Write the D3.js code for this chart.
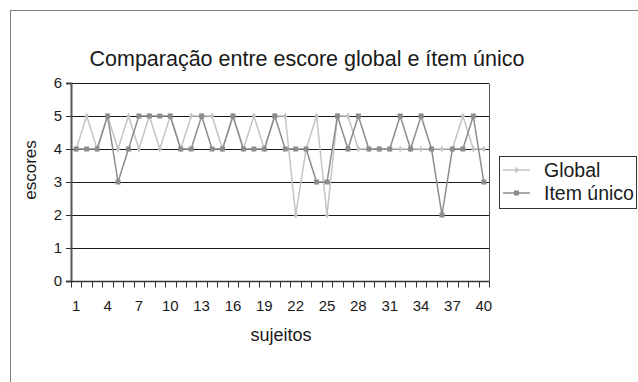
<!DOCTYPE html>
<html>
<head>
<meta charset="utf-8">
<script src="https://cdn.jsdelivr.net/npm/d3@7"></script>
<style>
  html, body { margin: 0; padding: 0; background: #fff; }
  svg { display: block; font-family: "Liberation Sans", Arial, sans-serif; }
</style>
</head>
<body>
<svg id="chart" width="638" height="382"></svg>
<script>
const subjects = d3.range(1, 41);
const globalScores = [4,5,4,5,4,5,4,5,4,5, 4,5,5,5,4,5,4,5,4,5, 5,2,4,5,2,5,5,4,4,4, 4,4,4,4,4,4,4,5,4,4];
const itemScores   = [4,4,4,5,3,4,5,5,5,5, 4,4,5,4,4,5,4,4,4,5, 4,4,4,3,3,5,4,5,4,4, 4,5,4,5,4,2,4,4,5,3];
const yTicks = [0,1,2,3,4,5,6];
const xTickLabels = [1,4,7,10,13,16,19,22,25,28,31,34,37,40];
const seriesNames = ["Global", "Item único"];
const titleText = "Comparação entre escore global e ítem único";

(function () {
const FF = "Liberation Sans, Arial, sans-serif";
const svg = d3.select("#chart");
const pL = 71, pR = 489, pT = 83, pB = 281;

// outer frame
svg.append("rect").attr("x", 10.5).attr("y", 10.5).attr("width", 700).attr("height", 500)
  .attr("fill", "none").attr("stroke", "#808080").attr("stroke-width", 1);

const x = d3.scaleBand().domain(subjects).range([pL, pR]).paddingInner(0).paddingOuter(0);
const y = d3.scaleLinear().domain([0, 6]).range([pB, pT]);

// gridlines
svg.append("g").selectAll("line").data(yTicks.filter(d => d > 0)).join("line")
  .attr("x1", pL).attr("x2", pR)
  .attr("y1", d => Math.round(y(d)) + 0.5).attr("y2", d => Math.round(y(d)) + 0.5)
  .attr("stroke", "#1a1a1a").attr("stroke-width", 1);

// right plot border
svg.append("line").attr("x1", pR + 0.5).attr("x2", pR + 0.5)
  .attr("y1", Math.round(y(6)) + 0.5).attr("y2", Math.round(y(0)) + 0.5)
  .attr("stroke", "#555").attr("stroke-width", 1);

// y axis
const yAxis = d3.axisLeft(y).tickValues(yTicks).tickSize(5).tickPadding(4).tickFormat(d3.format("d"));
const gy = svg.append("g").attr("transform", `translate(${pL},0)`).call(yAxis);
gy.select(".domain").attr("stroke", "#555").attr("stroke-width", 2);
gy.selectAll(".tick line").attr("stroke", "#333");
gy.selectAll(".tick text").attr("font-size", 15).attr("fill", "#1a1a1a").attr("font-family", FF);

// x axis: ticks at band boundaries
const gx = svg.append("g").attr("transform", `translate(0,${Math.round(y(0)) + 0.5})`);
gx.append("line").attr("x1", pL).attr("x2", pR).attr("stroke", "#333").attr("stroke-width", 1.5);
const bounds = subjects.map(d => x(d)).concat([pR]);
gx.selectAll("line.tk").data(bounds).join("line").attr("class", "tk")
  .attr("x1", d => Math.round(d) + 0.5).attr("x2", d => Math.round(d) + 0.5)
  .attr("y1", 0).attr("y2", 6).attr("stroke", "#333");
gx.selectAll("text").data(xTickLabels).join("text")
  .attr("x", d => x(d) + x.bandwidth() / 2).attr("y", 29)
  .attr("text-anchor", "middle").attr("font-size", 15).attr("fill", "#1a1a1a").attr("font-family", FF)
  .text(d => d);

// lines
const cx = d => x(d) + x.bandwidth() / 2;
const lineGen = vals => d3.line().x((d, i) => cx(subjects[i])).y(d => y(d))(vals);

const gCol = "#c4c4c4", iCol = "#8c8c8c";
svg.append("path").attr("d", lineGen(globalScores)).attr("fill", "none")
  .attr("stroke", gCol).attr("stroke-width", 1.5);
svg.append("g").selectAll("path").data(globalScores).join("path")
  .attr("d", d3.symbol(d3.symbolDiamond, 14))
  .attr("transform", (d, i) => `translate(${cx(subjects[i])},${y(d)})`)
  .attr("fill", gCol);

svg.append("path").attr("d", lineGen(itemScores)).attr("fill", "none")
  .attr("stroke", iCol).attr("stroke-width", 1.5);
svg.append("g").selectAll("rect").data(itemScores).join("rect")
  .attr("x", (d, i) => cx(subjects[i]) - 2.5).attr("y", d => y(d) - 2.5)
  .attr("width", 5).attr("height", 5).attr("fill", iCol);

// title
svg.append("text").attr("x", 307).attr("y", 66).attr("text-anchor", "middle")
  .attr("font-size", 21.5).attr("fill", "#1a1a1a").attr("font-family", FF).text(titleText);

// axis titles
svg.append("text").attr("transform", `translate(36,170) rotate(-90)`)
  .attr("text-anchor", "middle").attr("font-size", 17).attr("fill", "#1a1a1a").attr("font-family", FF).text("escores");
svg.append("text").attr("x", 281).attr("y", 341).attr("text-anchor", "middle")
  .attr("font-size", 18).attr("fill", "#1a1a1a").attr("font-family", FF).text("sujeitos");

// legend
const lg = svg.append("g");
lg.append("rect").attr("x", 499.5).attr("y", 156.5).attr("width", 137).attr("height", 52)
  .attr("fill", "#fff").attr("stroke", "#333").attr("stroke-width", 1);
const legendItems = [
  { name: seriesNames[0], col: gCol, sym: "diamond", yy: 170 },
  { name: seriesNames[1], col: iCol, sym: "square", yy: 193 }
];
legendItems.forEach(it => {
  lg.append("line").attr("x1", 503).attr("x2", 530).attr("y1", it.yy).attr("y2", it.yy)
    .attr("stroke", it.col).attr("stroke-width", 1.5);
  if (it.sym === "diamond") {
    lg.append("path").attr("d", d3.symbol(d3.symbolDiamond, 14)).attr("transform", `translate(516.5,${it.yy})`).attr("fill", it.col);
  } else {
    lg.append("rect").attr("x", 514).attr("y", it.yy - 2.5).attr("width", 5).attr("height", 5).attr("fill", it.col);
  }
  lg.append("text").attr("x", 544).attr("y", it.yy + 6.5).attr("font-size", 19.5).attr("fill", "#1a1a1a").attr("font-family", FF).text(it.name);
});
})();
</script>
</body>
</html>
